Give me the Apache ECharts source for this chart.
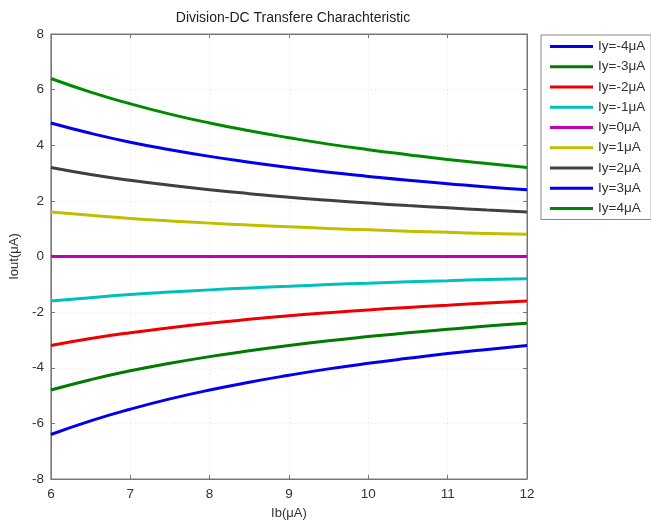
<!DOCTYPE html>
<html><head><meta charset="utf-8">
<script src="https://cdn.jsdelivr.net/npm/echarts@6/dist/echarts.min.js"></script>
<style>html,body{margin:0;padding:0;background:#fff}#c{width:651px;height:525px}</style>
</head><body><div id="c"></div>
<script>
const ib = [6, 6.5, 7, 7.5, 8, 8.5, 9, 9.5, 10, 10.5, 11, 11.5, 12];
const seriesNames = ['Iy=-4μA','Iy=-3μA','Iy=-2μA','Iy=-1μA','Iy=0μA','Iy=1μA','Iy=2μA','Iy=3μA','Iy=4μA'];
const iyM4 = [-6.4,-5.91,-5.49,-5.12,-4.8,-4.52,-4.27,-4.04,-3.84,-3.66,-3.49,-3.34,-3.2];
const iyM3 = [-4.8,-4.43,-4.11,-3.84,-3.6,-3.39,-3.2,-3.03,-2.88,-2.74,-2.62,-2.5,-2.4];
const iyM2 = [-3.2,-2.95,-2.74,-2.56,-2.4,-2.26,-2.13,-2.02,-1.92,-1.83,-1.75,-1.67,-1.6];
const iyM1 = [-1.6,-1.48,-1.37,-1.28,-1.2,-1.13,-1.07,-1.01,-0.96,-0.91,-0.87,-0.83,-0.8];
const iy0  = [0,0,0,0,0,0,0,0,0,0,0,0,0];
const iyP1 = [1.6,1.48,1.37,1.28,1.2,1.13,1.07,1.01,0.96,0.91,0.87,0.83,0.8];
const iyP2 = [3.2,2.95,2.74,2.56,2.4,2.26,2.13,2.02,1.92,1.83,1.75,1.67,1.6];
const iyP3 = [4.8,4.43,4.11,3.84,3.6,3.39,3.2,3.03,2.88,2.74,2.62,2.5,2.4];
const iyP4 = [6.4,5.91,5.49,5.12,4.8,4.52,4.27,4.04,3.84,3.66,3.49,3.34,3.2];
const allData = [iyM4, iyM3, iyM2, iyM1, iy0, iyP1, iyP2, iyP3, iyP4];
const colors = ['#0000ee','#007a00','#ee0000','#00bfbf','#bf00bf','#bfbf00','#404040','#0000ee','#008a00'];

const font = 'Liberation Sans, Arial, sans-serif';
const axisCol = '#777';
const tickStyle = {inside: true, length: 4, lineStyle: {color: axisCol}};
const chart = echarts.init(document.getElementById('c'));
chart.setOption({
  animation: false,
  color: colors,
  title: {text: 'Division-DC Transfere Charachteristic', left: 288, top: 6, textAlign: 'center',
    textStyle: {fontFamily: font, fontSize: 14, fontWeight: 'normal', color: '#222'}},
  grid: {left: 49, right: 124, top: 34, bottom: 45, show: true, borderColor: axisCol, borderWidth: 1},
  legend: {
    orient: 'vertical', left: 541, top: 35, icon: 'rect', itemWidth: 43, itemHeight: 3,
    itemGap: 6.25, padding: [4.5, 6, 4, 9], borderColor: '#888', borderWidth: 1,
    textStyle: {fontFamily: font, fontSize: 13.5, color: '#333', lineHeight: 14},
    data: seriesNames
  },
  xAxis: [{
    type: 'value', min: 6, max: 12, interval: 1,
    name: 'Ib(μA)', nameLocation: 'middle', nameGap: 28,
    nameTextStyle: {fontFamily: font, fontSize: 13, color: '#333'},
    axisLine: {onZero: false, lineStyle: {color: axisCol}},
    axisTick: tickStyle,
    axisLabel: {fontFamily: font, fontSize: 13.5, color: '#333', margin: 8},
    splitLine: {show: true, lineStyle: {color: '#e4e4e4', type: [1, 3]}}
  }, {
    type: 'value', position: 'top', min: 6, max: 12, interval: 1,
    axisLine: {onZero: false, lineStyle: {color: axisCol}},
    axisTick: tickStyle, axisLabel: {show: false}, splitLine: {show: false}
  }],
  yAxis: [{
    type: 'value', min: -8, max: 8, interval: 2,
    name: 'Iout(μA)', nameLocation: 'middle', nameGap: 28,
    nameTextStyle: {fontFamily: font, fontSize: 13, color: '#333'},
    axisLine: {show: true, onZero: false, lineStyle: {color: axisCol}},
    axisTick: Object.assign({show: true}, tickStyle),
    axisLabel: {fontFamily: font, fontSize: 13.5, color: '#333', margin: 7},
    splitLine: {show: true, lineStyle: {color: '#e4e4e4', type: [1, 3]}}
  }, {
    type: 'value', position: 'right', min: -8, max: 8, interval: 2,
    axisLine: {show: true, onZero: false, lineStyle: {color: axisCol}},
    axisTick: Object.assign({show: true}, tickStyle), axisLabel: {show: false}, splitLine: {show: false}
  }],
  series: seriesNames.map((n, i) => ({
    name: n, type: 'line', smooth: true, showSymbol: false, symbol: 'none',
    lineStyle: {width: 3, color: colors[i]}, itemStyle: {color: colors[i]},
    data: ib.map((x, j) => [x, allData[i][j]])
  }))
});
</script></body></html>
